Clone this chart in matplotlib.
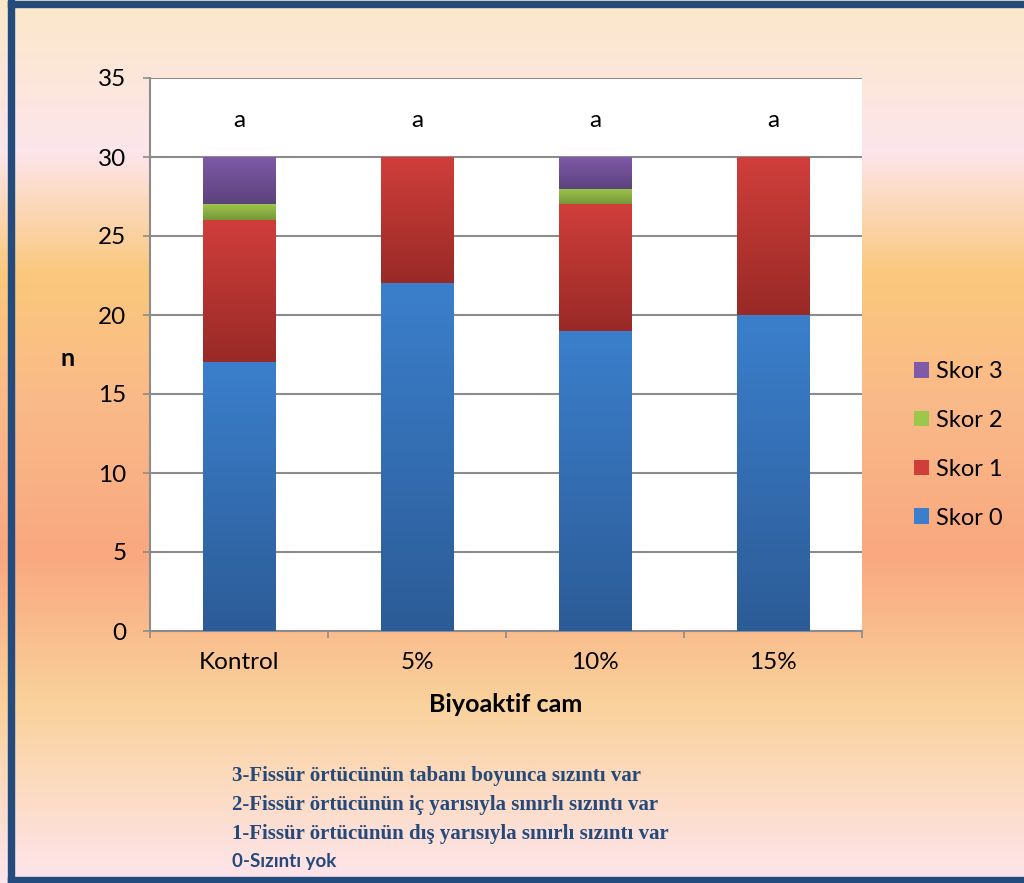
import numpy as np
import matplotlib.pyplot as plt
from matplotlib.colors import LinearSegmentedColormap
from matplotlib.patches import Rectangle

categories = ['Kontrol', '5%', '10%', '15%']
skor0 = [17, 22, 19, 20]
skor1 = [9, 8, 8, 10]
skor2 = [1, 0, 1, 0]
skor3 = [3, 0, 2, 0]
series = [('Skor 0', skor0), ('Skor 1', skor1), ('Skor 2', skor2), ('Skor 3', skor3)]
letters = ['a', 'a', 'a', 'a']
notes = ['3-Fissür örtücünün tabanı boyunca sızıntı var',
         '2-Fissür örtücünün iç yarısıyla sınırlı sızıntı var',
         '1-Fissür örtücünün dış yarısıyla sınırlı sızıntı var']
last_note = '0-Sızıntı yok'

# (top colour, bottom colour) of each segment gradient
grad = {'Skor 0': ('#3b7fcc', '#2c5c97'),
        'Skor 1': ('#d03e3b', '#992a27'),
        'Skor 2': ('#9dc64c', '#779639'),
        'Skor 3': ('#7f5aa8', '#5c427d')}

W, H = 1024, 883
FONT = 'Lato'
fig = plt.figure(figsize=(W / 100, H / 100), dpi=100)

# background gradient
bg = fig.add_axes([0, 0, 1, 1], zorder=-5)
bg_cmap = LinearSegmentedColormap.from_list('bg', [
    (0.0, '#fbe8c9'), (0.17, '#fde5ec'), (0.31, '#fac87c'),
    (0.46, '#fab989'), (0.63, '#f9a87f'), (0.80, '#fad29c'),
    (1.0, '#fee5ec')])
bg.imshow(np.linspace(0, 1, 256).reshape(-1, 1), aspect='auto', cmap=bg_cmap,
          extent=[0, 1, 0, 1])
bg.set_axis_off()

# frame (left, top, bottom)
border = '#234b7d'
fig.patches.append(Rectangle((8 / W, 0), 6 / W, 1, transform=fig.transFigure, color=border, zorder=10))
fig.patches.append(Rectangle((8 / W, 1 - 7 / H), 1, 6 / H, transform=fig.transFigure, color=border, zorder=10))
fig.patches.append(Rectangle((8 / W, 0), 1, 6 / H, transform=fig.transFigure, color=border, zorder=10))

ax = fig.add_axes([150 / W, 1 - 631 / H, 712 / W, 553 / H])
ax.set_facecolor('white')
x = np.arange(len(categories))
bottom = np.zeros(len(categories))
handles = []
for name, vals in series:
    bars = ax.bar(x, vals, width=0.41, bottom=bottom, color=grad[name][0], zorder=3, linewidth=0)
    cmap = LinearSegmentedColormap.from_list(name, [grad[name][1], grad[name][0]])
    for b in bars:
        if b.get_height() <= 0:
            continue
        x0, y0 = b.get_x(), b.get_y()
        im = ax.imshow(np.linspace(0, 1, 100).reshape(-1, 1), cmap=cmap, aspect='auto',
                       origin='lower', extent=[x0, x0 + b.get_width(), y0, y0 + b.get_height()],
                       zorder=4)
        im.set_clip_path(b)
    handles.append(bars)
    bottom += np.array(vals)

for xi, t in zip(x, letters):
    ax.text(xi, 32.3, t, ha='center', va='center', fontsize=17.5, family=FONT)

ax.set_xlim(-0.5, len(categories) - 0.5)
ax.set_ylim(0, 35)
ax.set_yticks(range(0, 36, 5))
ax.grid(axis='y', color='#8c8c8c', linewidth=1.5, zorder=1)
ax.set_xticks(np.arange(-0.5, len(categories), 1))
ax.set_xticklabels([])
ax.set_xticks(x, minor=True)
ax.set_xticklabels(categories, minor=True)
ax.tick_params(axis='x', which='major', length=5, width=1.2, color='#8c8c8c', direction='out')
ax.tick_params(axis='x', which='minor', length=0, pad=15, labelsize=17.5)
ax.tick_params(axis='y', length=5, width=1.2, color='#8c8c8c', labelsize=17.5, pad=12)
for lab in ax.get_xticklabels(minor=True) + ax.get_yticklabels():
    lab.set_family(FONT)
for s in ['top', 'right']:
    ax.spines[s].set_visible(False)
for s in ['left', 'bottom']:
    ax.spines[s].set_color('#8c8c8c')
    ax.spines[s].set_linewidth(1.5)

ax.set_ylabel('n', fontsize=18, fontweight='bold', family=FONT, rotation=0,
              va='center', ha='center')
ax.yaxis.set_label_coords(-82 / 712, (631 - 358) / 553)
ax.set_xlabel('Biyoaktif cam', fontsize=18, fontweight='bold', family=FONT)
ax.xaxis.set_label_coords(0.5, -(693 - 631) / 553)

fig.legend(handles[::-1], [s[0] for s in series][::-1], loc='upper left',
           bbox_to_anchor=(914 / W, 1 - 361 / H), frameon=False, borderpad=0,
           borderaxespad=0, prop={'family': FONT, 'size': 17},
           handlelength=0.64, handleheight=0.64, handletextpad=0.3, labelspacing=1.18)

ys = [776, 805, 834]
for y, t in zip(ys, notes):
    fig.text(232 / W, 1 - y / H, t, fontsize=15, fontweight='bold', family='Liberation Serif',
             color='#24497a', va='center')
fig.text(232 / W, 1 - 862 / H, last_note, fontsize=13.5, fontweight='bold', family=FONT,
         color='#24497a', va='center')

fig.savefig('out.png', dpi=100)
